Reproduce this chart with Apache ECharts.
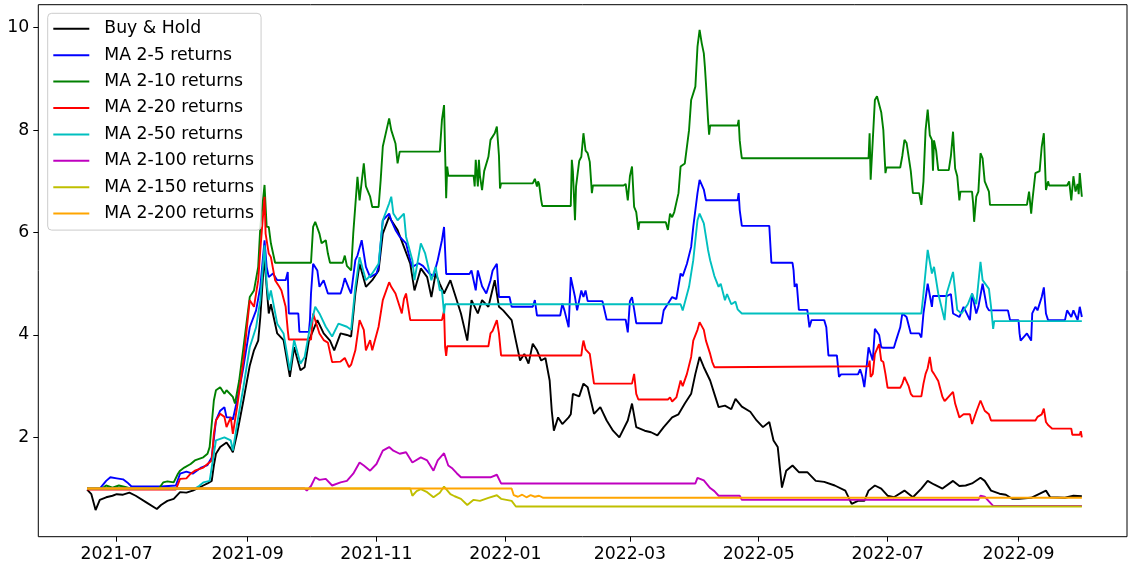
<!DOCTYPE html>
<html>
<head>
<meta charset="utf-8">
<title>MA crossover returns vs Buy & Hold</title>
<script src="https://cdn.jsdelivr.net/npm/echarts@6/dist/echarts.min.js"></script>
<style>
  html, body { margin: 0; padding: 0; background: #ffffff; }
  #chart { width: 1129px; height: 567px; }
</style>
</head>
<body>
<div id="chart"></div>
<script>
// ---- data: cumulative returns, [date, value] ----
const seriesNames = ['Buy & Hold', 'MA 2-5 returns', 'MA 2-10 returns', 'MA 2-20 returns',
  'MA 2-50 returns', 'MA 2-100 returns', 'MA 2-150 returns', 'MA 2-200 returns'];

const buyHold = [
  ['2021-06-17',0.98],['2021-06-19',0.89],['2021-06-21',0.58],['2021-06-23',0.78],['2021-06-26',0.83],
  ['2021-06-29',0.86],['2021-07-01',0.89],['2021-07-04',0.88],['2021-07-07',0.92],['2021-07-10',0.86],
  ['2021-07-15',0.73],['2021-07-20',0.60],['2021-07-22',0.68],['2021-07-25',0.76],['2021-07-28',0.80],
  ['2021-07-31',0.93],['2021-08-03',0.92],['2021-08-06',0.96],['2021-08-09',1.02],['2021-08-11',1.06],
  ['2021-08-13',1.10],['2021-08-15',1.15],['2021-08-16',1.45],['2021-08-17',1.68],['2021-08-19',1.81],
  ['2021-08-22',1.90],['2021-08-24',1.78],['2021-08-25',1.71],['2021-08-27',2.07],['2021-08-30',2.72],
  ['2021-09-02',3.40],['2021-09-04',3.70],['2021-09-06',3.89],['2021-09-07',4.35],['2021-09-09',5.60],
  ['2021-09-09 12:00',5.20],['2021-09-11',4.42],['2021-09-12',4.60],['2021-09-15',4.03],['2021-09-18',3.90],
  ['2021-09-21',3.18],['2021-09-23',3.76],['2021-09-26',3.31],['2021-09-28',3.37],['2021-09-30',3.89],
  ['2021-10-04',4.29],['2021-10-07',4.03],['2021-10-10',3.89],['2021-10-12',3.70],['2021-10-15',4.03],
  ['2021-10-18',4.00],['2021-10-20',3.97],['2021-10-22',4.81],['2021-10-24',5.39],['2021-10-27',4.94],
  ['2021-10-30',5.07],['2021-11-02',5.26],['2021-11-04',5.98],['2021-11-07',6.31],['2021-11-08',6.24],
  ['2021-11-11',6.05],['2021-11-14',5.72],['2021-11-17',5.39],['2021-11-19',4.87],['2021-11-22',5.30],
  ['2021-11-25',5.13],['2021-11-27',4.74],['2021-11-29',5.20],['2021-12-01',5.00],['2021-12-03',4.81],
  ['2021-12-06',5.07],['2021-12-08',4.81],['2021-12-11',4.42],['2021-12-14',3.89],['2021-12-16',4.68],
  ['2021-12-19',4.42],['2021-12-21',4.68],['2021-12-24',4.55],['2021-12-27',5.07],['2021-12-29',4.55],
  ['2021-12-31',4.48],['2022-01-04',4.29],['2022-01-06',3.89],['2022-01-08',3.50],['2022-01-10',3.63],
  ['2022-01-12',3.44],['2022-01-14',3.83],['2022-01-16',3.70],['2022-01-18',3.50],['2022-01-20',3.55],
  ['2022-01-22',3.11],['2022-01-23',2.52],['2022-01-24',2.13],['2022-01-26',2.39],['2022-01-28',2.26],
  ['2022-01-31',2.39],['2022-02-01',2.45],['2022-02-02',2.85],['2022-02-05',2.80],['2022-02-07',3.05],
  ['2022-02-09',2.98],['2022-02-12',2.46],['2022-02-15',2.59],['2022-02-18',2.33],['2022-02-21',2.13],
  ['2022-02-24',2.00],['2022-02-28',2.33],['2022-03-02',2.66],['2022-03-04',2.20],['2022-03-08',2.13],
  ['2022-03-11',2.10],['2022-03-14',2.04],['2022-03-17',2.20],['2022-03-21',2.39],['2022-03-24',2.45],
  ['2022-03-27',2.66],['2022-03-30',2.85],['2022-04-01',3.24],['2022-04-03',3.57],['2022-04-05',3.37],
  ['2022-04-08',3.11],['2022-04-10',2.85],['2022-04-12',2.59],['2022-04-15',2.62],['2022-04-18',2.55],
  ['2022-04-20',2.75],['2022-04-23',2.60],['2022-04-27',2.50],['2022-04-30',2.33],['2022-05-03',2.20],
  ['2022-05-06',2.30],['2022-05-08',1.94],['2022-05-10',1.81],['2022-05-11',1.41],['2022-05-12',1.02],
  ['2022-05-14',1.35],['2022-05-17',1.45],['2022-05-20',1.32],['2022-05-24',1.32],['2022-05-28',1.15],
  ['2022-06-01',1.13],['2022-06-06',1.06],['2022-06-11',0.96],['2022-06-14',0.70],['2022-06-17',0.76],
  ['2022-06-20',0.76],['2022-06-22',0.96],['2022-06-25',1.06],['2022-06-28',1.00],['2022-07-01',0.86],
  ['2022-07-04',0.83],['2022-07-09',0.96],['2022-07-13',0.83],['2022-07-17',1.00],['2022-07-20',1.15],
  ['2022-07-23',1.08],['2022-07-27',1.00],['2022-08-01',1.15],['2022-08-04',1.05],['2022-08-07',1.06],
  ['2022-08-10',1.10],['2022-08-14',1.21],['2022-08-16',1.15],['2022-08-19',0.96],['2022-08-23',0.90],
  ['2022-08-26',0.88],['2022-08-29',0.80],['2022-09-01',0.80],['2022-09-07',0.82],['2022-09-14',0.96],
  ['2022-09-16',0.83],['2022-09-23',0.82],['2022-09-27',0.86],['2022-10-01',0.85]
];

const ma2_5 = [
  ['2021-06-17',1.00],['2021-06-23',1.00],['2021-06-26',1.15],['2021-06-28',1.22],['2021-07-01',1.20],
  ['2021-07-04',1.18],['2021-07-06',1.12],['2021-07-08',1.04],['2021-07-22',1.04],['2021-07-29',1.06],
  ['2021-07-31',1.29],['2021-08-03',1.33],['2021-08-06',1.29],['2021-08-10',1.41],['2021-08-13',1.46],
  ['2021-08-15',1.61],['2021-08-17',2.33],['2021-08-19',2.52],['2021-08-21',2.59],['2021-08-22',2.39],
  ['2021-08-24',2.39],['2021-08-25',2.35],['2021-08-27',2.72],['2021-08-30',3.37],['2021-09-02',4.15],
  ['2021-09-05',4.48],['2021-09-07',4.94],['2021-09-09',5.85],['2021-09-10',5.33],['2021-09-11',5.13],
  ['2021-09-13',5.20],['2021-09-15',5.07],['2021-09-19',5.07],['2021-09-20',5.23],['2021-09-20 12:00',4.42],
  ['2021-09-25',4.42],['2021-09-25 12:00',4.06],['2021-09-30',4.06],['2021-09-30 12:00',4.29],['2021-10-01',4.81],
  ['2021-10-02',5.39],['2021-10-04',5.26],['2021-10-05',4.94],['2021-10-07',5.07],['2021-10-09',4.81],
  ['2021-10-15',4.81],['2021-10-16',4.94],['2021-10-17',5.11],['2021-10-19',4.90],['2021-10-20',4.81],
  ['2021-10-22',5.46],['2021-10-23',5.55],['2021-10-25',5.85],['2021-10-27',5.33],['2021-10-29',5.13],
  ['2021-11-01',5.20],['2021-11-02',5.33],['2021-11-04',6.24],['2021-11-07',6.37],['2021-11-08',6.24],
  ['2021-11-10',6.05],['2021-11-12',5.92],['2021-11-15',5.79],['2021-11-17',5.46],['2021-11-18',5.33],
  ['2021-11-21',5.40],['2021-11-23',5.35],['2021-11-26',5.20],['2021-11-28',5.15],['2021-11-30',5.46],
  ['2021-12-02',5.85],['2021-12-03',6.11],['2021-12-04',5.19],['2021-12-15',5.19],['2021-12-16',5.26],
  ['2021-12-18',4.87],['2021-12-19',5.26],['2021-12-21',4.95],['2021-12-23',4.81],['2021-12-25',5.07],
  ['2021-12-26',5.26],['2021-12-28',5.39],['2021-12-29',4.74],['2022-01-03',4.74],['2022-01-04',4.55],
  ['2022-01-14',4.55],['2022-01-15',4.68],['2022-01-16',4.38],['2022-01-27',4.38],['2022-01-28',4.61],
  ['2022-01-29',4.48],['2022-01-31',4.15],['2022-02-01',5.13],['2022-02-03',4.74],['2022-02-04',4.48],
  ['2022-02-06',4.87],['2022-02-07',4.74],['2022-02-08',4.87],['2022-02-09',4.66],['2022-02-16',4.66],
  ['2022-02-18',4.30],['2022-02-27',4.30],['2022-02-28',4.05],['2022-03-01',4.66],['2022-03-02',4.74],
  ['2022-03-03',4.50],['2022-03-04',4.23],['2022-03-16',4.23],['2022-03-17',4.48],['2022-03-19',4.61],
  ['2022-03-21',4.74],['2022-03-23',4.70],['2022-03-25',5.20],['2022-03-26',5.15],['2022-03-28',5.39],
  ['2022-03-30',5.72],['2022-03-31',6.11],['2022-04-02',6.77],['2022-04-03',7.03],['2022-04-05',6.84],
  ['2022-04-06',6.63],['2022-04-21',6.63],['2022-04-21 12:00',6.77],['2022-04-22',6.44],['2022-04-23',6.13],
  ['2022-05-06',6.13],['2022-05-07',5.41],['2022-05-17',5.41],['2022-05-17 12:00',5.26],['2022-05-18',4.94],
  ['2022-05-19',5.00],['2022-05-20',4.49],['2022-05-24',4.49],['2022-05-25',4.15],['2022-05-26',4.29],
  ['2022-06-01',4.29],['2022-06-02',4.15],['2022-06-03',3.60],['2022-06-07',3.60],['2022-06-08',3.18],
  ['2022-06-09',3.23],['2022-06-17',3.23],['2022-06-18',3.33],['2022-06-19',3.20],['2022-06-20',2.98],
  ['2022-06-21',3.35],['2022-06-22',3.76],['2022-06-24',3.50],['2022-06-25',4.12],['2022-06-27',4.00],
  ['2022-06-28',3.76],['2022-06-29',3.75],['2022-07-04',3.75],['2022-07-05',3.89],['2022-07-07',4.15],
  ['2022-07-08',4.42],['2022-07-10',4.35],['2022-07-12',4.03],['2022-07-16',4.03],['2022-07-17',3.95],
  ['2022-07-18',4.42],['2022-07-20',5.00],['2022-07-22',4.55],['2022-07-22 12:00',4.76],['2022-07-29',4.76],
  ['2022-07-31',4.80],['2022-08-01',4.42],['2022-08-04',4.35],['2022-08-06',4.55],['2022-08-09',4.29],
  ['2022-08-10',4.81],['2022-08-12',4.42],['2022-08-13',4.55],['2022-08-15',5.00],['2022-08-17',4.55],
  ['2022-08-18',4.48],['2022-08-27',4.48],['2022-08-28',4.29],['2022-09-01',4.29],['2022-09-01 12:00',4.03],
  ['2022-09-02',3.89],['2022-09-05',4.03],['2022-09-07',3.89],['2022-09-07 12:00',4.42],['2022-09-09',4.55],
  ['2022-09-10',4.48],['2022-09-12',4.74],['2022-09-13',4.93],['2022-09-14',4.42],['2022-09-15',4.29],
  ['2022-09-23',4.29],['2022-09-24',4.48],['2022-09-26',4.35],['2022-09-27',4.48],['2022-09-29',4.29],
  ['2022-09-30',4.55],['2022-10-01',4.35]
];

const ma2_10 = [
  ['2021-06-17',1.00],['2021-06-24',1.00],['2021-06-26',1.06],['2021-06-29',1.02],['2021-07-02',1.06],
  ['2021-07-05',1.03],['2021-07-08',1.00],['2021-07-21',1.00],['2021-07-23',1.12],['2021-07-25',1.14],
  ['2021-07-28',1.12],['2021-07-30',1.29],['2021-07-31',1.35],['2021-08-02',1.41],['2021-08-05',1.48],
  ['2021-08-07',1.55],['2021-08-11',1.61],['2021-08-13',1.68],['2021-08-14',1.81],['2021-08-16',2.72],
  ['2021-08-17',2.92],['2021-08-19',2.98],['2021-08-21',2.85],['2021-08-22',2.92],['2021-08-25',2.79],
  ['2021-08-26',2.66],['2021-08-28',3.11],['2021-08-30',3.75],['2021-09-02',4.74],['2021-09-04',4.87],
  ['2021-09-06',5.33],['2021-09-07',6.11],['2021-09-09',6.93],['2021-09-10',6.11],['2021-09-11',6.11],
  ['2021-09-12',5.79],['2021-09-13',5.60],['2021-09-14',5.41],['2021-10-01',5.41],['2021-10-02',6.11],
  ['2021-10-03',6.21],['2021-10-05',5.98],['2021-10-06',5.79],['2021-10-08',5.85],['2021-10-09',5.59],
  ['2021-10-10',5.41],['2021-10-16',5.41],['2021-10-17',5.55],['2021-10-18',5.35],['2021-10-20',5.26],
  ['2021-10-21',5.98],['2021-10-23',7.09],['2021-10-24',6.63],['2021-10-26',7.35],['2021-10-27',6.90],
  ['2021-10-29',6.70],['2021-10-30',6.50],['2021-11-02',6.50],['2021-11-03',7.03],['2021-11-04',7.68],
  ['2021-11-07',8.23],['2021-11-08',8.00],['2021-11-10',7.74],['2021-11-11',7.35],['2021-11-12',7.58],
  ['2021-12-01',7.58],['2021-12-02',8.20],['2021-12-03',8.49],['2021-12-04',6.67],['2021-12-04 12:00',7.29],
  ['2021-12-05',7.11],['2021-12-17',7.11],['2021-12-17 12:00',6.90],['2021-12-18',7.42],['2021-12-19',6.90],
  ['2021-12-19 12:00',7.42],['2021-12-20',7.10],['2021-12-21',6.83],['2021-12-22',7.20],['2021-12-24',7.48],
  ['2021-12-25',7.81],['2021-12-27',7.94],['2021-12-28',8.07],['2021-12-29',7.50],['2021-12-29 12:00',6.86],
  ['2021-12-30',6.96],['2022-01-14',6.96],['2022-01-15',7.05],['2022-01-16',6.90],['2022-01-16 12:00',7.00],
  ['2022-01-17',6.95],['2022-01-18',6.63],['2022-01-18 12:00',6.52],['2022-02-01',6.52],['2022-02-01 12:00',7.42],
  ['2022-02-02',7.20],['2022-02-03',6.24],['2022-02-03 12:00',6.90],['2022-02-05',7.40],['2022-02-06',7.48],
  ['2022-02-07',7.94],['2022-02-08',7.60],['2022-02-09',7.55],['2022-02-10',7.38],['2022-02-11',6.77],
  ['2022-02-11 12:00',6.92],['2022-02-26',6.92],['2022-02-27',6.95],['2022-02-28',6.63],['2022-03-01',7.10],
  ['2022-03-02',7.29],['2022-03-03',6.50],['2022-03-04',6.40],['2022-03-05',6.05],['2022-03-05 12:00',6.20],
  ['2022-03-18',6.20],['2022-03-19',6.05],['2022-03-20',6.37],['2022-03-21',6.30],['2022-03-22',6.40],
  ['2022-03-24',6.77],['2022-03-25',7.29],['2022-03-27',7.35],['2022-03-29',8.00],['2022-03-30',8.59],
  ['2022-04-01',8.85],['2022-04-02',9.63],['2022-04-03',9.96],['2022-04-04',9.70],['2022-04-05',9.50],
  ['2022-04-05 12:00',9.24],['2022-04-06',8.92],['2022-04-07',8.20],['2022-04-07 12:00',7.91],['2022-04-08',8.09],
  ['2022-04-21',8.09],['2022-04-21 12:00',8.20],['2022-04-22',7.80],['2022-04-22 12:00',7.61],['2022-04-23',7.45],
  ['2022-06-22',7.45],['2022-06-22 12:00',7.94],['2022-06-23',7.03],['2022-06-24',7.80],['2022-06-25',8.59],
  ['2022-06-26',8.66],['2022-06-28',8.35],['2022-06-29',8.00],['2022-06-30',7.16],['2022-06-30 12:00',7.27],
  ['2022-07-07',7.27],['2022-07-08',7.50],['2022-07-09',7.81],['2022-07-10',7.75],['2022-07-11',7.48],
  ['2022-07-12',7.20],['2022-07-13',6.77],['2022-07-16',6.77],['2022-07-16 12:00',6.65],['2022-07-17',6.54],
  ['2022-07-18',7.00],['2022-07-19',8.00],['2022-07-20',8.40],['2022-07-21',7.90],['2022-07-22',7.81],
  ['2022-07-22 12:00',7.21],['2022-07-23',7.80],['2022-07-24',7.60],['2022-07-25',7.22],['2022-07-30',7.22],
  ['2022-07-31',7.50],['2022-08-01',7.97],['2022-08-01 12:00',7.60],['2022-08-02',7.25],['2022-08-03',7.10],
  ['2022-08-04',6.63],['2022-08-04 12:00',6.80],['2022-08-10',6.80],['2022-08-10 12:00',6.58],['2022-08-11',6.21],
  ['2022-08-12',6.70],['2022-08-13',6.80],['2022-08-14',7.55],['2022-08-15',7.45],['2022-08-16',7.00],
  ['2022-08-18',6.80],['2022-08-18 12:00',6.54],['2022-09-05',6.54],['2022-09-06',6.80],['2022-09-07',6.37],
  ['2022-09-07 12:00',6.60],['2022-09-09',7.16],['2022-09-11',7.20],['2022-09-12',7.68],['2022-09-13',7.94],
  ['2022-09-14',6.83],['2022-09-15',7.00],['2022-09-15 12:00',6.92],['2022-09-24',6.92],['2022-09-25',7.00],
  ['2022-09-26',6.63],['2022-09-26 12:00',6.60],['2022-09-27',7.10],['2022-09-28',6.80],['2022-09-29',6.95],
  ['2022-09-29 12:00',6.75],['2022-09-30',7.16],['2022-10-01',6.70]
];

const ma2_20 = [
  ['2021-06-17',0.98],['2021-07-29',0.98],['2021-07-31',1.19],['2021-08-03',1.20],['2021-08-05',1.29],
  ['2021-08-07',1.35],['2021-08-11',1.41],['2021-08-13',1.48],['2021-08-15',1.55],['2021-08-16',2.07],
  ['2021-08-17',2.33],['2021-08-19',2.46],['2021-08-21',2.40],['2021-08-22',2.20],['2021-08-24',2.39],
  ['2021-08-25',2.07],['2021-08-27',2.59],['2021-08-30',3.50],['2021-09-02',4.68],['2021-09-04',4.55],
  ['2021-09-06',5.07],['2021-09-07',5.66],['2021-09-09',6.70],['2021-09-09 12:00',5.98],['2021-09-11',5.59],
  ['2021-09-12',5.52],['2021-09-14',5.07],['2021-09-16',4.94],['2021-09-17',4.87],['2021-09-19',4.55],
  ['2021-09-20',4.09],['2021-09-20 12:00',3.91],['2021-10-01',3.91],['2021-10-02',4.42],['2021-10-04',4.16],
  ['2021-10-05',4.03],['2021-10-07',3.90],['2021-10-09',3.85],['2021-10-11',3.47],['2021-10-15',3.48],
  ['2021-10-17',3.55],['2021-10-19',3.37],['2021-10-20',3.42],['2021-10-22',3.70],['2021-10-24',4.29],
  ['2021-10-26',4.10],['2021-10-27',3.70],['2021-10-29',3.90],['2021-10-30',3.70],['2021-11-02',4.16],
  ['2021-11-04',4.68],['2021-11-07',5.03],['2021-11-08',4.94],['2021-11-10',4.81],['2021-11-12',4.55],
  ['2021-11-13',4.42],['2021-11-14',4.70],['2021-11-15',4.81],['2021-11-16',4.55],['2021-11-17',4.29],
  ['2021-12-02',4.29],['2021-12-03',4.48],['2021-12-03 12:00',3.76],['2021-12-04',3.59],['2021-12-04 12:00',3.78],
  ['2021-12-24',3.78],['2021-12-25',4.03],['2021-12-26',4.08],['2021-12-28',4.29],['2021-12-29',4.03],
  ['2021-12-30',3.60],['2022-02-06',3.60],['2022-02-06 12:00',3.77],['2022-02-07',3.89],['2022-02-08',3.72],
  ['2022-02-10',3.63],['2022-02-12',3.05],['2022-03-02',3.05],['2022-03-03',3.24],['2022-03-04',2.85],
  ['2022-03-05',2.74],['2022-03-19',2.74],['2022-03-20',2.78],['2022-03-21',2.70],['2022-03-23',2.78],
  ['2022-03-25',3.11],['2022-03-26',3.00],['2022-03-28',3.24],['2022-03-30',3.57],['2022-03-31',3.89],
  ['2022-04-02',4.10],['2022-04-03',4.25],['2022-04-05',4.10],['2022-04-06',3.89],['2022-04-08',3.63],
  ['2022-04-09',3.47],['2022-04-10',3.37],['2022-04-10 12:00',3.39],['2022-06-22',3.39],['2022-06-22 12:00',3.50],
  ['2022-06-23',3.18],['2022-06-24',3.24],['2022-06-25',3.63],['2022-06-27',3.82],['2022-06-28',3.50],
  ['2022-06-29',3.47],['2022-06-30',3.24],['2022-07-01',2.97],['2022-07-07',2.97],['2022-07-08',3.05],
  ['2022-07-09',3.18],['2022-07-11',3.00],['2022-07-12',2.85],['2022-07-13',2.80],['2022-07-17',2.80],
  ['2022-07-18',3.05],['2022-07-19',3.24],['2022-07-20',3.35],['2022-07-21',3.57],['2022-07-22',3.30],
  ['2022-07-23',3.24],['2022-07-25',3.10],['2022-07-27',2.79],['2022-07-28',2.71],['2022-07-29',2.75],
  ['2022-08-01',2.89],['2022-08-02',2.66],['2022-08-04',2.39],['2022-08-06',2.45],['2022-08-09',2.45],
  ['2022-08-10',2.26],['2022-08-12',2.50],['2022-08-14',2.72],['2022-08-16',2.52],['2022-08-18',2.45],
  ['2022-08-19',2.33],['2022-09-09',2.33],['2022-09-10',2.40],['2022-09-12',2.45],['2022-09-13',2.56],
  ['2022-09-14',2.30],['2022-09-15',2.24],['2022-09-17',2.17],['2022-09-26',2.17],['2022-09-26 12:00',2.05],
  ['2022-09-30',2.05],['2022-09-30 12:00',2.12],['2022-10-01',2.00]
];

const ma2_50 = [
  ['2021-06-17',1.00],['2021-08-07',1.00],['2021-08-09',1.05],['2021-08-11',1.12],['2021-08-14',1.15],
  ['2021-08-16',1.68],['2021-08-17',1.94],['2021-08-21',2.00],['2021-08-24',1.94],['2021-08-25',1.74],
  ['2021-08-27',2.26],['2021-08-30',2.98],['2021-09-02',3.76],['2021-09-05',4.15],['2021-09-07',4.68],
  ['2021-09-09',5.75],['2021-09-10',5.00],['2021-09-11',4.68],['2021-09-12',4.87],['2021-09-15',4.22],
  ['2021-09-18',4.03],['2021-09-21',3.31],['2021-09-23',3.90],['2021-09-26',3.44],['2021-09-28',3.57],
  ['2021-09-30',4.03],['2021-10-03',4.55],['2021-10-05',4.42],['2021-10-08',4.16],['2021-10-11',3.97],
  ['2021-10-14',4.22],['2021-10-18',4.16],['2021-10-20',4.10],['2021-10-22',4.94],['2021-10-24',5.52],
  ['2021-10-27',5.07],['2021-10-30',5.20],['2021-11-02',5.39],['2021-11-04',6.24],['2021-11-07',6.57],
  ['2021-11-08',6.70],['2021-11-09',6.37],['2021-11-11',6.24],['2021-11-14',6.37],['2021-11-15',5.92],
  ['2021-11-18',5.46],['2021-11-19',5.07],['2021-11-22',5.79],['2021-11-24',5.60],['2021-11-27',5.07],
  ['2021-11-29',5.33],['2021-12-01',4.87],['2021-12-02',4.87],['2021-12-03',4.42],['2021-12-03 12:00',4.60],
  ['2022-03-25',4.60],['2022-03-26',4.48],['2022-03-29',4.94],['2022-03-31',5.46],['2022-04-02',6.24],
  ['2022-04-03',6.37],['2022-04-05',6.18],['2022-04-07',5.66],['2022-04-08',5.46],['2022-04-10',5.15],
  ['2022-04-12',4.94],['2022-04-13',5.00],['2022-04-15',4.68],['2022-04-16',4.80],['2022-04-18',4.60],
  ['2022-04-20',4.65],['2022-04-21',4.50],['2022-04-23',4.42],['2022-07-17',4.42],['2022-07-18',4.81],
  ['2022-07-20',5.66],['2022-07-22',5.20],['2022-07-23',5.33],['2022-07-25',4.81],['2022-07-28',4.29],
  ['2022-07-29',4.81],['2022-08-01',5.23],['2022-08-03',4.49],['2022-08-05',4.42],['2022-08-08',4.60],
  ['2022-08-10',4.81],['2022-08-12',4.60],['2022-08-14',5.43],['2022-08-15',5.07],['2022-08-18',4.90],
  ['2022-08-19',4.55],['2022-08-20',4.12],['2022-08-20 12:00',4.27],['2022-10-01',4.27]
];

const ma2_100 = [
  ['2021-06-17',1.00],['2021-09-28',1.00],['2021-09-28 12:00',1.02],['2021-09-29',0.96],['2021-10-01',1.05],
  ['2021-10-03',1.22],['2021-10-05',1.17],['2021-10-08',1.19],['2021-10-11',1.06],['2021-10-15',1.12],
  ['2021-10-18',1.15],['2021-10-21',1.29],['2021-10-24',1.51],['2021-10-26',1.45],['2021-10-29',1.35],
  ['2021-11-01',1.48],['2021-11-04',1.74],['2021-11-07',1.81],['2021-11-09',1.74],['2021-11-12',1.68],
  ['2021-11-15',1.71],['2021-11-18',1.51],['2021-11-22',1.61],['2021-11-25',1.55],['2021-11-28',1.35],
  ['2021-11-30',1.55],['2021-12-03',1.69],['2021-12-05',1.45],['2021-12-07',1.39],['2021-12-09',1.30],
  ['2021-12-11',1.22],['2021-12-25',1.22],['2021-12-28',1.27],['2021-12-30',1.10],['2022-04-01',1.10],
  ['2022-04-02',1.21],['2022-04-05',1.16],['2022-04-08',1.01],['2022-04-10',0.95],['2022-04-12',0.86],
  ['2022-04-22',0.86],['2022-04-23',0.78],['2022-08-13',0.78],['2022-08-14',0.86],['2022-08-16',0.84],
  ['2022-08-18',0.75],['2022-08-20',0.66],['2022-10-01',0.66]
];

const ma2_150 = [
  ['2021-06-17',1.00],['2021-11-17',1.00],['2021-11-18',0.86],['2021-11-20',0.95],['2021-11-22',0.99],
  ['2021-11-25',0.93],['2021-11-28',0.83],['2021-12-01',0.92],['2021-12-03',1.04],['2021-12-06',0.89],
  ['2021-12-08',0.85],['2021-12-11',0.80],['2021-12-14',0.68],['2021-12-17',0.78],['2021-12-20',0.76],
  ['2021-12-24',0.82],['2021-12-28',0.87],['2021-12-30',0.80],['2022-01-04',0.76],['2022-01-06',0.65],
  ['2022-10-01',0.65]
];

const ma2_200 = [
  ['2021-06-17',1.00],['2022-01-04',1.00],['2022-01-05',0.87],['2022-01-07',0.84],['2022-01-09',0.88],
  ['2022-01-11',0.83],['2022-01-13',0.87],['2022-01-15',0.84],['2022-01-17',0.86],['2022-01-19',0.82],
  ['2022-10-01',0.82]
];

// ---- tick labels ----
const xTickMonths = ['2021-07', '2021-09', '2021-11', '2022-01', '2022-03', '2022-05', '2022-07', '2022-09'];
const yTicks = [2, 4, 6, 8, 10];

// ---- chart ----
const lineColors = ['#000000', '#0000ff', '#008000', '#ff0000', '#00bfbf', '#bf00bf', '#bfbf00', '#ffa500'];
const seriesData = [buyHold, ma2_5, ma2_10, ma2_20, ma2_50, ma2_100, ma2_150, ma2_200];

// parse 'YYYY-MM-DD[ HH:mm]' (or 'YYYY-MM') as a UTC timestamp
function ts(s) {
  const parts = s.split(' ');
  const [Y, M, D] = parts[0].split('-').map(Number);
  const [h, m] = (parts[1] || '00:00').split(':').map(Number);
  return Date.UTC(Y, M - 1, D || 1, h, m);
}
function fmtMonth(v) {
  const d = new Date(v);
  return d.getUTCFullYear() + '-' + String(d.getUTCMonth() + 1).padStart(2, '0');
}

const FONT = 'DejaVu Sans';
const chart = echarts.init(document.getElementById('chart'), null, { renderer: 'canvas' });

// time runs on a numeric axis (ms since epoch) so tick positions can be pinned to month starts
chart.setOption({
  animation: false,
  backgroundColor: '#ffffff',
  grid: {
    left: 38.3, right: 2, top: 4.7, bottom: 30.3,
    show: true, borderColor: '#000000', borderWidth: 1, backgroundColor: 'transparent'
  },
  legend: {
    orient: 'vertical',
    left: 47.7, top: 13.3,
    padding: [5.5, 7, 6.5, 5.6],
    itemGap: 6.4,
    itemWidth: 36, itemHeight: 2,
    icon: 'rect',
    backgroundColor: 'rgba(255,255,255,0.8)',
    borderColor: '#cccccc', borderWidth: 1, borderRadius: 4,
    textStyle: { fontFamily: FONT, fontSize: 17.3, color: '#000000', lineHeight: 20, padding: [0, 0, 0, 10] },
    data: seriesNames
  },
  xAxis: {
    type: 'value',
    min: ts('2021-05-24 21:00'),
    max: ts('2022-10-22 09:00'),
    axisLine: { show: false },
    splitLine: { show: false },
    axisTick: { show: true, length: 5, lineStyle: { color: '#000000', width: 1 },
      customValues: xTickMonths.map(ts) },
    axisLabel: { fontFamily: FONT, fontSize: 17.3, color: '#000000', margin: 9,
      customValues: xTickMonths.map(ts), formatter: fmtMonth }
  },
  yAxis: {
    type: 'value',
    min: 0.06, max: 10.45,
    axisLine: { show: false },
    splitLine: { show: false },
    axisTick: { show: true, length: 5, lineStyle: { color: '#000000', width: 1 }, customValues: yTicks },
    axisLabel: { fontFamily: FONT, fontSize: 17.3, color: '#000000', margin: 9, customValues: yTicks,
      formatter: v => String(Math.round(v)) }
  },
  series: seriesNames.map((name, i) => ({
    name,
    type: 'line',
    data: seriesData[i].map(p => [ts(p[0]), p[1]]),
    showSymbol: false,
    symbol: 'none',
    color: lineColors[i],
    lineStyle: { color: lineColors[i], width: 1.9 },
    emphasis: { disabled: true },
    silent: true
  }))
});
</script>
</body>
</html>
